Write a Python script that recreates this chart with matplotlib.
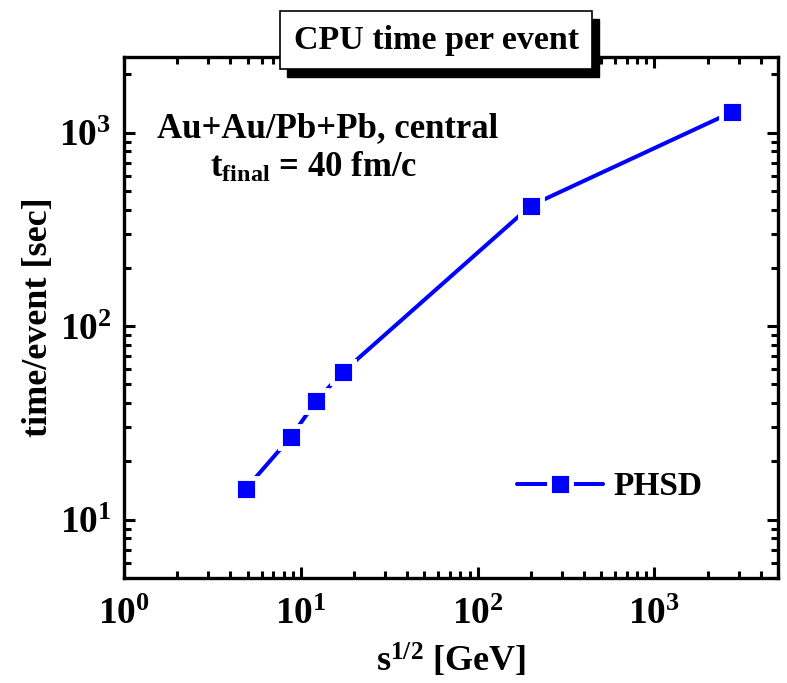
import matplotlib
matplotlib.use("Agg")
import matplotlib.pyplot as plt
from matplotlib.patches import Rectangle
from matplotlib.ticker import LogLocator, NullFormatter
import numpy as np

# PHSD CPU time per event vs collision energy
sqrt_s = [4.9, 8.8, 12.2, 17.3, 200.0, 2760.0]        # GeV
cpu_time = [14.5, 26.8, 41.0, 58.0, 420.0, 1280.0]    # sec / event
series_label = "PHSD"

plt.rcParams["font.family"] = ["Liberation Serif", "DejaVu Serif"]
plt.rcParams["font.weight"] = "bold"
plt.rcParams["mathtext.fontset"] = "custom"
plt.rcParams["mathtext.rm"] = "Liberation Serif:bold"
plt.rcParams["mathtext.bf"] = "Liberation Serif:bold"
plt.rcParams["mathtext.it"] = "Liberation Serif:bold"
plt.rcParams["mathtext.default"] = "rm"

W, H = 787, 683
fig = plt.figure(figsize=(W / 100, H / 100), dpi=100)
ax = fig.add_axes([124 / W, 1 - 578 / H, (778 - 124) / W, (578 - 57) / H])

blue = "#0000ff"
ax.plot(sqrt_s, cpu_time, color=blue, lw=2.9, solid_capstyle="round",
        marker="s", markersize=16, markerfacecolor=blue,
        markeredgecolor="white", markeredgewidth=3.5, label=series_label,
        clip_on=False, zorder=3)

ax.set_xscale("log")
ax.set_yscale("log")
ax.set_xlim(1, 5000)
ax.set_ylim(5, 2460)

for axis in (ax.xaxis, ax.yaxis):
    axis.set_major_locator(LogLocator(base=10, numticks=10))
    axis.set_minor_locator(LogLocator(base=10, subs=np.arange(2, 10), numticks=20))
    axis.set_minor_formatter(NullFormatter())

ax.tick_params(which="both", direction="in", top=True, right=True, width=2.2)
ax.tick_params(which="major", length=8, labelsize=27)
ax.tick_params(axis="x", which="major", pad=14)
ax.tick_params(axis="y", which="major", pad=9)
ax.tick_params(which="minor", length=5)
for s in ax.spines.values():
    s.set_linewidth(2.4)

ax.set_xlabel(r"s$^{1/2}$ [GeV]", fontsize=26, fontweight="bold", labelpad=7)
ax.set_ylabel("time/event [sec]", fontsize=26, fontweight="bold", labelpad=3)

ax.text(0.050, 0.846, "Au+Au/Pb+Pb, central", transform=ax.transAxes,
        fontsize=25, fontweight="bold", va="baseline", ha="left")
ax.text(0.132, 0.770, r"t$_{\mathrm{final}}$ = 40 fm/c", transform=ax.transAxes,
        fontsize=25, fontweight="bold", va="baseline", ha="left")

leg = ax.legend(loc="center left", bbox_to_anchor=(0.58, 0.175), frameon=False,
                fontsize=24, handlelength=2.6, handletextpad=0.3,
                borderaxespad=0)
for t in leg.get_texts():
    t.set_fontweight("bold")

# Title box with drop shadow
bx0, by0, bx1, by1 = 280, 11, 592, 69
offx, offy = 7, 8
fig.patches.append(Rectangle(((bx0 + offx) / W, 1 - (by1 + offy) / H),
                             (bx1 - bx0) / W, (by1 - by0) / H,
                             transform=fig.transFigure, facecolor="black",
                             edgecolor="black", zorder=5))
fig.patches.append(Rectangle((bx0 / W, 1 - by1 / H), (bx1 - bx0) / W,
                             (by1 - by0) / H, transform=fig.transFigure,
                             facecolor="white", edgecolor="black", lw=1.2,
                             zorder=6))
fig.text((bx0 + bx1) / 2 / W, 1 - (by0 + by1) / 2 / H, "CPU time per event",
         ha="center", va="center", fontsize=24.5, fontweight="bold", zorder=7)

fig.savefig("out.png", dpi=100)
